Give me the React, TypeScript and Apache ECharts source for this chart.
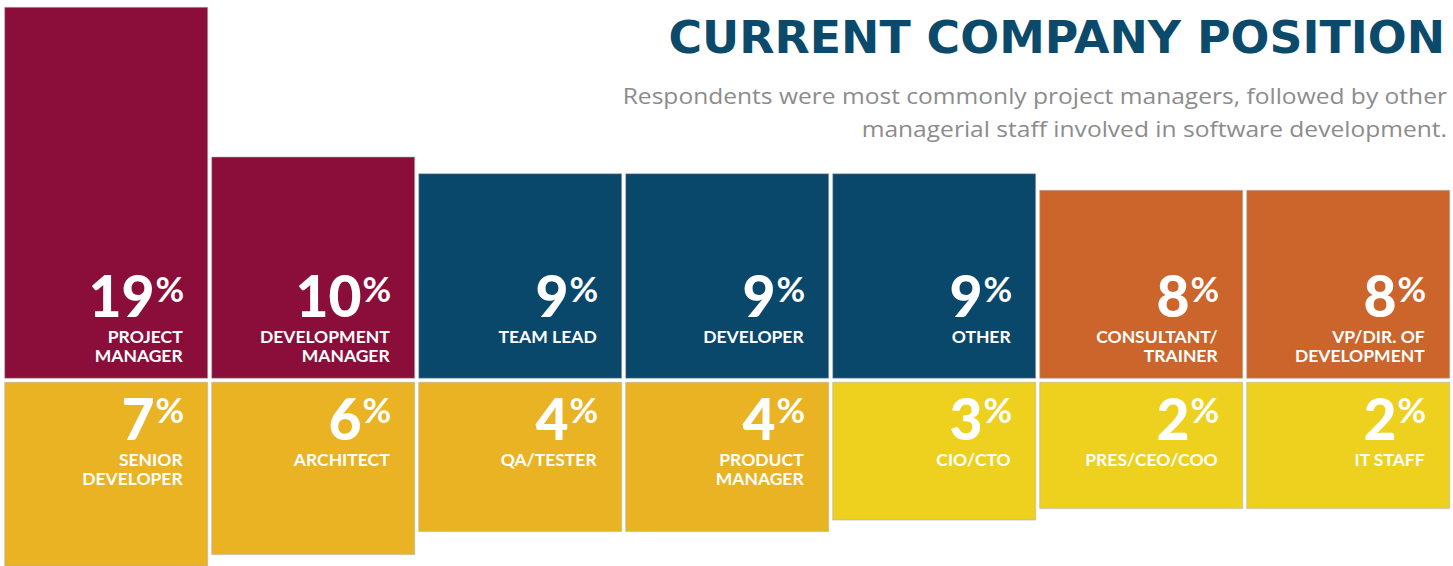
import React, { useEffect, useRef } from 'react';
import * as echarts from 'echarts';

// ---------- data ----------
const topCategories = [
  'PROJECT\nMANAGER',
  'DEVELOPMENT\nMANAGER',
  'TEAM LEAD',
  'DEVELOPER',
  'OTHER',
  'CONSULTANT/\nTRAINER',
  'VP/DIR. OF\nDEVELOPMENT',
];
const topValues = [19, 10, 9, 9, 9, 8, 8];

const bottomCategories = [
  'SENIOR\nDEVELOPER',
  'ARCHITECT',
  'QA/TESTER',
  'PRODUCT\nMANAGER',
  'CIO/CTO',
  'PRES/CEO/COO',
  'IT STAFF',
];
const bottomValues = [7, 6, 4, 4, 3, 2, 2];

const titleText = 'CURRENT COMPANY POSITION';
const subtitleLines = [
  'Respondents were most commonly project managers, followed by other',
  'managerial staff involved in software development.',
];

// ---------- styles ----------
const MAROON = '#8B0E3A';
const NAVY = '#0A486B';
const ORANGE = '#CC652B';
const GOLD = '#EAB324';
const YELLOW = '#EDD11E';
const topColors = [MAROON, MAROON, NAVY, NAVY, NAVY, ORANGE, ORANGE];
const bottomColors = [GOLD, GOLD, GOLD, GOLD, YELLOW, YELLOW, YELLOW];

const TOP_MIN = -3.3;
const TOP_MAX = 19;
const BOT_MIN = -9;
const BOT_MAX = 7;

const NUM_FONT = '900 57px Lato';
const PCT_FONT = '700 35px Lato';
const NAME_FONT = '700 17.5px Lato';
const NAME_LH = 18.5;
const TITLE_FONT = 'bold 45px "DejaVu Sans"';
const SUB_FONT = '400 21px "Open Sans"';

function measure(text: string, font: string): number {
  const c = document.createElement('canvas').getContext('2d');
  if (!c) return text.length * 10;
  c.font = font;
  return c.measureText(text).width;
}

function makeRenderer(kind: 'top' | 'bottom', cats: string[], colors: string[], axisMin: number, pctW: number) {
  return (params: any, api: any) => {
    const i = api.value(0) as number;
    const v = api.value(1) as number;
    const end = api.coord([i, v]);
    const base = api.coord([i, axisMin]);
    const band = api.size([1, 0])[0];
    const bw = band - 4;
    const x0 = end[0] - bw / 2;
    const y0 = Math.min(end[1], base[1]);
    const h = Math.abs(end[1] - base[1]);
    const right = x0 + bw;
    const b = base[1];
    let numY: number, pctY: number, nameY: number;
    if (kind === 'top') {
      numY = b - 83;
      pctY = b - 90;
      nameY = b - 41.8 - NAME_LH / 2;
    } else {
      numY = b + 35.8;
      pctY = b + 26.5;
      nameY = b + 77.2 - NAME_LH / 2;
    }
    const pctX = right - 23.5;
    return {
      type: 'group',
      children: [
        {
          type: 'rect',
          shape: { x: x0, y: y0, width: bw, height: h },
          style: { fill: colors[i], stroke: 'rgba(175,175,175,0.55)', lineWidth: 1 },
        },
        {
          type: 'text',
          style: { text: '%', x: pctX, y: pctY, align: 'right', verticalAlign: 'middle', font: PCT_FONT, fill: '#ffffff' },
        },
        {
          type: 'text',
          style: { text: String(v), x: pctX - pctW - 1, y: numY, align: 'right', verticalAlign: 'middle', font: NUM_FONT, fill: '#ffffff' },
        },
        {
          type: 'text',
          style: {
            text: cats[i],
            x: right - 25,
            y: nameY,
            align: 'right',
            verticalAlign: 'top',
            font: NAME_FONT,
            lineHeight: NAME_LH,
            fill: '#ffffff',
          },
        },
      ],
    };
  };
}

export default function App() {
  const ref = useRef<HTMLDivElement>(null);
  useEffect(() => {
    document.body.style.margin = '0';
    if (!ref.current) return;
    const chart = echarts.init(ref.current, undefined, { renderer: 'svg' });
    const pctW = measure('%', PCT_FONT);
    const titleW = measure(titleText, TITLE_FONT);
    const titleScale = 777 / titleW;
    const subW = measure(subtitleLines[0], SUB_FONT);
    const subScale = 825 / subW;

    const option: any = {
      animation: false,
      backgroundColor: '#ffffff',
      grid: [
        { left: 2.7, width: 1449, top: 7.3, height: 371 },
        { left: 2.7, width: 1449, top: 382.3, height: 184 },
      ],
      xAxis: [
        { type: 'category', gridIndex: 0, data: topCategories, show: false },
        { type: 'category', gridIndex: 1, data: bottomCategories, show: false },
      ],
      yAxis: [
        { type: 'value', gridIndex: 0, min: TOP_MIN, max: TOP_MAX, show: false, splitLine: { show: false } },
        { type: 'value', gridIndex: 1, min: BOT_MIN, max: BOT_MAX, inverse: true, show: false, splitLine: { show: false } },
      ],
      series: [
        {
          type: 'custom',
          xAxisIndex: 0,
          yAxisIndex: 0,
          clip: false,
          renderItem: makeRenderer('top', topCategories, topColors, TOP_MIN, pctW),
          data: topValues.map((v, i) => [i, v]),
          encode: { x: 0, y: 1 },
        },
        {
          type: 'custom',
          xAxisIndex: 1,
          yAxisIndex: 1,
          clip: false,
          renderItem: makeRenderer('bottom', bottomCategories, bottomColors, BOT_MIN, pctW),
          data: bottomValues.map((v, i) => [i, v]),
          encode: { x: 0, y: 1 },
        },
      ],
      graphic: [
        {
          type: 'text',
          x: 1445,
          y: 38,
          scaleX: titleScale,
          style: { text: titleText, x: 0, y: 0, align: 'right', verticalAlign: 'middle', font: TITLE_FONT, fill: '#0B4A6B' },
        },
        {
          type: 'text',
          x: 1447,
          y: 96,
          scaleX: subScale,
          style: { text: subtitleLines[0], x: 0, y: 0, align: 'right', verticalAlign: 'middle', font: SUB_FONT, fill: '#8C8C8C' },
        },
        {
          type: 'text',
          x: 1447,
          y: 129,
          scaleX: subScale,
          style: { text: subtitleLines[1], x: 0, y: 0, align: 'right', verticalAlign: 'middle', font: SUB_FONT, fill: '#8C8C8C' },
        },
      ],
    };
    chart.setOption(option);
    return () => chart.dispose();
  }, []);
  return <div ref={ref} style={{ width: 1453, height: 566 }} />;
}
